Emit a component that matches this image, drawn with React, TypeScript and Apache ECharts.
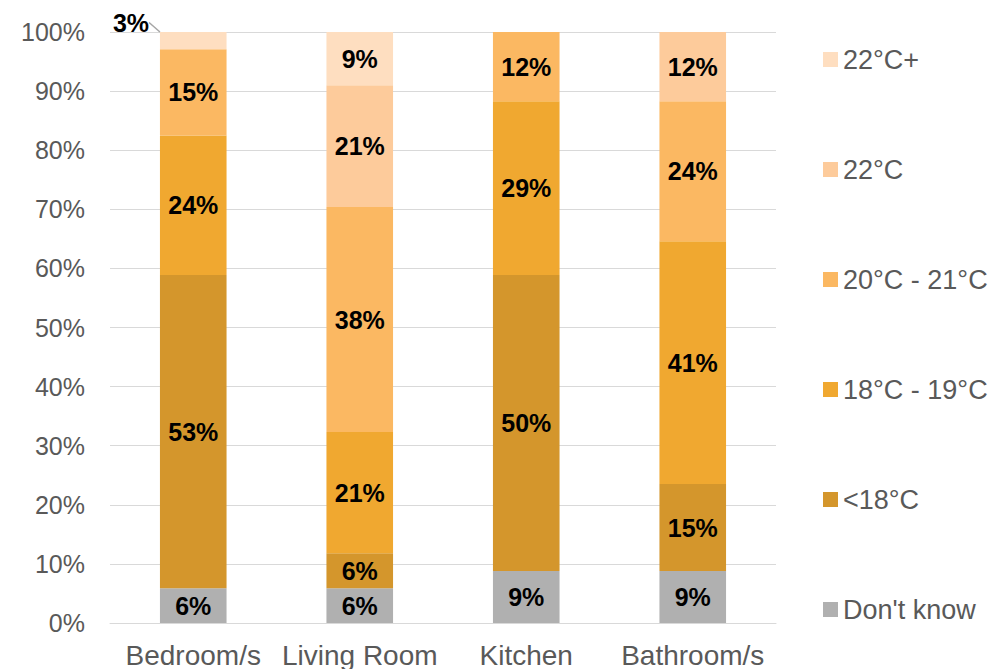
import React, { useEffect, useRef } from "react";
import * as echarts from "echarts";

const categories = ["Bedroom/s", "Living Room", "Kitchen", "Bathroom/s"];
const seriesNames = ["Don't know", "<18°C", "18°C - 19°C", "20°C - 21°C", "22°C", "22°C+"];
const dontKnow = [5.9, 5.9, 8.8, 8.8];
const below18 = [53.0, 5.9, 50.1, 14.7];
const c18to19 = [23.6, 20.5, 29.4, 41.1];
const c20to21 = [14.6, 38.1, 11.7, 23.7];
const c22 = [0, 20.6, 0, 11.7];
const c22plus = [2.9, 9.0, 0, 0];
const yTicks = [0, 10, 20, 30, 40, 50, 60, 70, 80, 90, 100];
const colors = ["#B0B0B0", "#D4962C", "#F0A830", "#FBB862", "#FDCB9B", "#FEDEC0"];

const FONT = "Liberation Sans, Arial, sans-serif";

export default function App() {
  const ref = useRef<HTMLDivElement>(null);
  useEffect(() => {
    if (!ref.current) return;
    const chart = echarts.init(ref.current, null, { renderer: "svg" });
    const allData = [dontKnow, below18, c18to19, c20to21, c22, c22plus];
    const series = allData.map((d, i) => ({
      name: seriesNames[i],
      type: "bar",
      stack: "total",
      barWidth: "40%",
      itemStyle: { color: colors[i] },
      data: d.map((v, j) => {
        if (i === 5 && j === 0) {
          return {
            value: v,
            label: { show: true, position: [-47, -22] },
            labelLine: { show: true },
          };
        }
        return v;
      }),
      label: {
        show: true,
        position: "inside",
        fontFamily: FONT,
        fontWeight: "bold",
        fontSize: 25,
        color: "#000",
        formatter: (p: any) => (p.value > 0 ? Math.round(p.value) + "%" : ""),
      },
      labelLine: {
        show: false,
        lineStyle: { color: "#A6A6A6", width: 1.5 },
      },
    }));
    chart.setOption({
      animation: false,
      textStyle: { fontFamily: FONT },
      grid: { left: 110, right: 217, top: 32, bottom: 46, containLabel: false },
      legend: {
        orient: "vertical",
        left: 818,
        top: 41,
        itemWidth: 15,
        itemHeight: 15,
        itemGap: 83,
        icon: "rect",
        data: [...seriesNames].reverse(),
        textStyle: { fontSize: 27, color: "#595959", fontFamily: FONT },
      },
      xAxis: {
        type: "category",
        data: categories,
        axisTick: { show: false },
        axisLine: { lineStyle: { color: "#D9D9D9" } },
        axisLabel: {
          fontSize: 28,
          color: "#595959",
          margin: 18,
          interval: 0,
          fontFamily: FONT,
        },
      },
      yAxis: {
        type: "value",
        min: yTicks[0],
        max: yTicks[yTicks.length - 1],
        interval: 10,
        axisLabel: { fontSize: 25, color: "#595959", margin: 25, formatter: "{value}%", fontFamily: FONT },
        splitLine: { lineStyle: { color: "#D9D9D9" } },
        axisLine: { show: false },
        axisTick: { show: false },
      },
      series,
    });
    return () => chart.dispose();
  }, []);
  return (
    <div
      ref={ref}
      style={{ position: "absolute", left: 0, top: 0, width: 993, height: 669 }}
    />
  );
}
